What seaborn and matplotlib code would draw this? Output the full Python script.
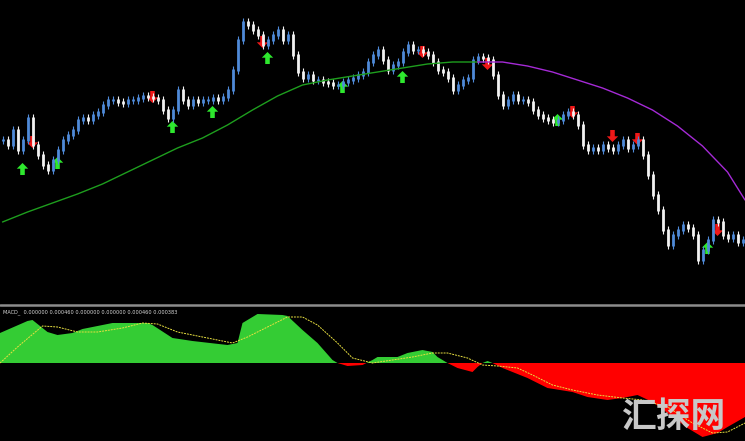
import numpy as np
import pandas as pd
import matplotlib
matplotlib.use('Agg')
import matplotlib.pyplot as plt
from matplotlib.path import Path
import seaborn as sns

# ==========================================
# price data (bar index, closing level)
# ==========================================
close = [163, 158, 173, 153, 163, 185, 158, 148, 138, 133,
         143, 153, 163, 168, 173, 183, 185, 183, 188, 191,
         198, 203, 203, 201, 200, 203, 203, 205, 207, 206,
         205, 203, 193, 185, 193, 213, 203, 198, 203, 201,
         203, 203, 205, 203, 206, 213, 233, 263, 281, 278,
         273, 268, 258, 263, 268, 273, 263, 268, 248, 231,
         225, 228, 223, 223, 221, 220, 218, 218, 221, 223,
         225, 228, 231, 241, 248, 253, 243, 233, 238, 241,
         251, 258, 253, 253, 251, 248, 241, 233, 231, 225,
         213, 218, 223, 225, 243, 246, 245, 243, 228, 208,
         198, 203, 208, 203, 203, 201, 193, 188, 185, 183,
         181, 183, 188, 191, 188, 178, 158, 153, 155, 153,
         158, 155, 153, 158, 163, 155, 158, 163, 148, 128,
         108, 93, 73, 58, 68, 73, 78, 75, 68, 43,
         53, 63, 83, 81, 68, 65, 68, 61, 63]

# moving average
ma_bar = [0, 5, 10, 15, 20, 25, 30, 35, 40, 45, 50, 55, 60, 65, 70, 75,
          80, 85, 90, 95, 100, 105, 110, 115, 120, 125, 130, 135, 140, 145, 148.5]
ma_val = [81, 91, 100, 109, 119, 131, 143, 155, 165, 178, 193, 207, 218, 223, 227, 231,
          235, 239, 241, 241, 241, 237, 231, 223, 215, 205, 193, 177, 157, 131, 103]

# signal arrows
buy_bar = [4, 11, 34, 42, 53, 68, 80, 111, 141]
buy_lvl = [134, 140, 176, 191, 245, 216, 226, 183, 55]
sell_bar = [6, 30, 52, 84, 97, 114, 122, 127, 143]
sell_lvl = [161, 206, 261, 251, 239, 191, 167, 164, 73]

# MACD histogram and signal (x 1e-5)
hist_bar = [-0.5, 5, 6, 9, 11, 14, 16, 22, 29, 30, 34, 38, 45, 47, 48, 51, 56, 57, 60, 63,
            66, 67, 69, 72, 74, 75, 79, 81, 84, 86, 87, 89, 91, 94, 95, 96, 97, 98,
            100, 105, 109, 114, 117, 121, 124, 127, 130, 133, 137, 140, 143, 145, 148.5]
hist_val = [30, 42, 43, 31, 28, 30, 34, 40, 40, 38, 25, 22, 18, 20, 40, 49, 48, 47, 33, 20,
            3, 0, -3, -2, 3, 6, 6, 10, 13, 11, 6, 0, -5, -9, -4, 0, 2, 0,
            -5, -15, -25, -29, -34, -37, -35, -32, -39, -50, -65, -74, -70, -64, -54]
sig_bar = [-0.5, 3, 8, 11, 15, 19, 24, 28, 31, 35, 40, 46, 49, 53, 57, 60, 63, 67, 70, 74,
           78, 82, 86, 89, 93, 96, 99, 103, 106, 110, 114, 119, 124, 128, 133, 138, 142, 145, 148.5]
sig_val = [0, 16, 37, 36, 31, 31, 35, 40, 39, 31, 26, 20, 26, 36, 46, 46, 38, 20, 5, 0,
           3, 6, 10, 10, 5, -2, -3, -5, -12, -22, -27, -32, -35, -37, -44, -60, -70, -69, -60]

macd_label = "MACD_  0.000000 0.000460 0.000000 0.000000 0.000460 0.000383"

# ==========================================
# figure
# ==========================================
sns.set_style('dark', {'axes.facecolor': 'black', 'figure.facecolor': 'black'})
plt.rcParams['font.family'] = ['DejaVu Sans']

fig = plt.figure(figsize=(7.45, 4.41), dpi=100)
fig.patch.set_facecolor('black')
ax1 = fig.add_axes([0, 1 - 303 / 441, 1, 303 / 441])
ax2 = fig.add_axes([0, 0, 1, 135 / 441])

# --- candles
df = pd.DataFrame({'bar': np.arange(len(close)), 'close': close})
df['open'] = df['close'].shift(1).fillna(df['close'])
up = df['close'] >= df['open']
lo = df[['open', 'close']].min(axis=1)
hi = df[['open', 'close']].max(axis=1)
col = np.where(up, '#4f8ad8', '#f2f2f2')
ax1.vlines(df['bar'], lo - 4, hi + 4, colors=col, lw=0.8)
ax1.vlines(df['bar'], lo - 0.8, hi + 0.8, colors=col, lw=2.0)

# --- moving average (green while rising, purple once turning)
ma = pd.DataFrame({'bar': ma_bar, 'ma': ma_val})
sns.lineplot(data=ma[ma['bar'] <= 95], x='bar', y='ma', color='#1e9e1e', lw=1.0, ax=ax1)
sns.lineplot(data=ma[ma['bar'] >= 95], x='bar', y='ma', color='#a52ad6', lw=1.0, ax=ax1)

# --- arrows
up_arrow = Path([(0, 1), (0.95, 0.05), (0.38, 0.05), (0.38, -1), (-0.38, -1),
                 (-0.38, 0.05), (-0.95, 0.05), (0, 1)])
dn_arrow = Path([(x, -y) for x, y in up_arrow.vertices])
sns.scatterplot(x=buy_bar, y=buy_lvl, marker=up_arrow, s=75, color='#2ee82e',
                edgecolor='none', ax=ax1)
sns.scatterplot(x=sell_bar, y=sell_lvl, marker=dn_arrow, s=75, color='#f01818',
                edgecolor='none', ax=ax1)

ax1.set_xlim(-0.5, 148.5)
ax1.set_ylim(0, 303)
ax1.axis('off')

# --- MACD panel
hx = np.array(hist_bar)
hv = np.array(hist_val) * 1e-5
ax2.fill_between(hx, 0, hv, where=hv >= 0, interpolate=True, color='#34cc34', lw=0)
ax2.fill_between(hx, 0, hv, where=hv <= 0, interpolate=True, color='#ff0000', lw=0)
sig = pd.DataFrame({'bar': sig_bar, 'sig': np.array(sig_val) * 1e-5})
sns.lineplot(data=sig, x='bar', y='sig', color='#e8e040', lw=0.7,
             linestyle=(0, (2, 1)), ax=ax2)
ax2.set_xlim(-0.5, 148.5)
ax2.set_ylim(-0.00078, 0.00057)
ax2.axis('off')
ax2.text(0.004, 0.975, macd_label, transform=ax2.transAxes, color='#d8d8d8',
         fontsize=3.6, va='top', ha='left')

# separator between panels
fig.add_artist(plt.Line2D([0, 1], [(441 - 304.5) / 441] * 2, color='#8c8c8c',
                          lw=1.8, transform=fig.transFigure))

# watermark
fig.text(673 / 745, (441 - 416.5) / 441, '汇探网', color='#c8c8c8', fontsize=25,
         fontweight='black', family=['Noto Sans CJK SC', 'DejaVu Sans'],
         ha='center', va='center')

fig.savefig('out.png', dpi=100, facecolor='black')
